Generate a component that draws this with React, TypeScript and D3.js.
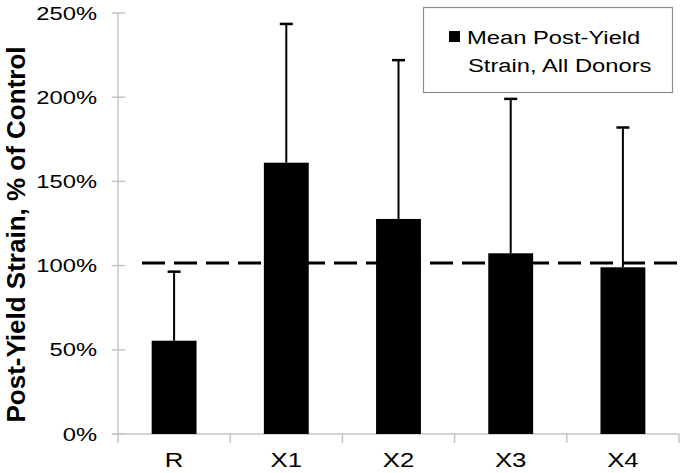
import * as d3 from "d3";
import { useEffect, useRef } from "react";

const categories = ["R", "X1", "X2", "X3", "X4"];
const meanValues = [55.4, 161.1, 127.7, 107.3, 99.0];
const errorValues = [41.0, 82.4, 94.3, 91.7, 83.0];
const yTicks = [0, 50, 100, 150, 200, 250];
const controlLevel = 101.6;
const legendLines = ["Mean Post-Yield", "Strain, All Donors"];
const yTitle = "Post-Yield Strain, % of Control";

const App = () => {
  const ref = useRef<SVGSVGElement>(null);

  useEffect(() => {
    const svg = d3.select(ref.current);
    svg.selectAll("*").remove();

    const width = 683,
      height = 473;
    const left = 118,
      right = 679,
      top = 13,
      bottom = 434;
    const font = "'Liberation Sans', Arial, sans-serif";
    const stretch = 1.32; // text in the source is widened horizontally
    const axisColor = "#c4c4c4";

    svg.attr("width", width).attr("height", height);

    const x = d3.scaleBand().domain(categories).range([left, right]).paddingInner(0.6).paddingOuter(0.3);
    const xOuter = d3.scaleBand().domain(categories).range([left, right]);
    const y = d3.scaleLinear().domain([0, 250]).range([bottom, top]);

    // y axis
    svg.append("line")
      .attr("x1", left).attr("x2", left)
      .attr("y1", y(250)).attr("y2", y(0))
      .attr("stroke", axisColor).attr("stroke-width", 1.5);
    svg.selectAll(".ytick")
      .data(yTicks)
      .join("line")
      .attr("x1", left - 6).attr("x2", left + 7)
      .attr("y1", d => y(d)).attr("y2", d => y(d))
      .attr("stroke", axisColor).attr("stroke-width", 1.5);
    svg.selectAll(".ylab")
      .data(yTicks)
      .join("text")
      .attr("transform", d => `translate(97,${y(d) + 6.5}) scale(${stretch},1)`)
      .attr("text-anchor", "end")
      .attr("font-family", font)
      .attr("font-size", 18)
      .attr("fill", "#000")
      .text(d => d + "%");

    // x axis
    svg.append("line")
      .attr("x1", left - 6).attr("x2", right)
      .attr("y1", y(0)).attr("y2", y(0))
      .attr("stroke", axisColor).attr("stroke-width", 1.5);
    const bounds = categories.map(c => xOuter(c)!).concat([right]);
    svg.selectAll(".xtick")
      .data(bounds)
      .join("line")
      .attr("x1", d => d).attr("x2", d => d)
      .attr("y1", y(0)).attr("y2", y(0) + 9)
      .attr("stroke", axisColor).attr("stroke-width", 1.5);
    svg.selectAll(".xlab")
      .data(categories)
      .join("text")
      .attr("transform", d => `translate(${x(d)! + x.bandwidth() / 2},467) scale(${stretch},1)`)
      .attr("text-anchor", "middle")
      .attr("font-family", font)
      .attr("font-size", 19.5)
      .attr("fill", "#000")
      .text(d => d);

    // error bars (upper half)
    categories.forEach((c, i) => {
      const cx = x(c)! + x.bandwidth() / 2;
      const yt = y(meanValues[i] + errorValues[i]);
      svg.append("line")
        .attr("x1", cx).attr("x2", cx)
        .attr("y1", y(meanValues[i])).attr("y2", yt)
        .attr("stroke", "#000").attr("stroke-width", 2);
      svg.append("line")
        .attr("x1", cx - 6.5).attr("x2", cx + 6.5)
        .attr("y1", yt).attr("y2", yt)
        .attr("stroke", "#000").attr("stroke-width", 2.5);
    });

    // bars
    svg.selectAll(".bar")
      .data(meanValues)
      .join("rect")
      .attr("x", (d, i) => x(categories[i])!)
      .attr("y", d => y(d))
      .attr("width", x.bandwidth())
      .attr("height", d => y(0) - y(d))
      .attr("fill", "#000");

    // control reference line
    svg.append("line")
      .attr("x1", left + 24).attr("x2", right - 2)
      .attr("y1", y(controlLevel)).attr("y2", y(controlLevel))
      .attr("stroke", "#000").attr("stroke-width", 3)
      .attr("stroke-dasharray", "23,9");

    // y title
    svg.append("text")
      .attr("transform", `translate(25,234.5) rotate(-90)`)
      .attr("text-anchor", "middle")
      .attr("font-family", font)
      .attr("font-weight", "bold")
      .attr("font-size", 26)
      .attr("fill", "#000")
      .text(yTitle);

    // legend
    const lg = svg.append("g");
    lg.append("rect")
      .attr("x", 423.5).attr("y", 7.5)
      .attr("width", 249).attr("height", 85)
      .attr("fill", "#fff").attr("stroke", "#8c8c8c").attr("stroke-width", 1.2);
    lg.append("rect")
      .attr("x", 449).attr("y", 31)
      .attr("width", 11).attr("height", 11)
      .attr("fill", "#000");
    lg.selectAll(".ltext")
      .data(legendLines)
      .join("text")
      .attr("transform", (d, i) => `translate(${467 + i},${44 + i * 28}) scale(${stretch},1)`)
      .attr("font-family", font)
      .attr("font-size", 18)
      .attr("fill", "#000")
      .text(d => d);
  }, []);

  return <svg ref={ref} style={{ position: "absolute", left: 0, top: 0, background: "#fff" }} />;
};

export default App;
